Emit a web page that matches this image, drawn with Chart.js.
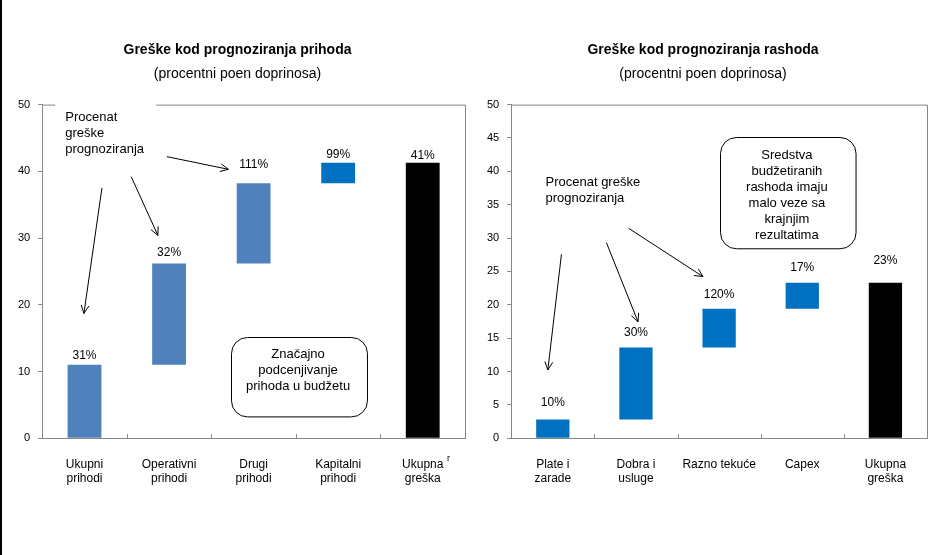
<!DOCTYPE html>
<html>
<head>
<meta charset="utf-8">
<script src="https://cdn.jsdelivr.net/npm/chart.js@4.4.0/dist/chart.umd.min.js"></script>
<style>
  body { margin: 0; background: #fff; }
  #page { position: relative; width: 945px; height: 555px; border-left: 2px solid #000; box-sizing: border-box; }
  #leftWrap { position: absolute; left: -2px; top: 0; }
  #rightWrap { position: absolute; left: 468px; top: 0; }
</style>
</head>
<body>
<div id="page">
  <div id="leftWrap"><canvas id="leftChart" width="470" height="555"></canvas></div>
  <div id="rightWrap"><canvas id="rightChart" width="475" height="555"></canvas></div>
</div>
<script>
// prihodi
var leftCats = [['Ukupni', 'prihodi'], ['Operativni', 'prihodi'], ['Drugi', 'prihodi'], ['Kapitalni', 'prihodi'], ['Ukupna', 'greška']];
var leftLow = [0, 11, 26.2, 38.2, 0];
var leftHigh = [11, 26.2, 38.2, 41.3, 41.3];
var leftPct = ['31%', '32%', '111%', '99%', '41%'];
var leftColors = ['#4F81BD', '#4F81BD', '#4F81BD', '#0070C0', '#000000'];

// rashodi
var rightCats = [['Plate i', 'zarade'], ['Dobra i', 'usluge'], 'Razno tekuće', 'Capex', ['Ukupna', 'greška']];
var rightLow = [0, 2.8, 13.6, 19.4, 0];
var rightHigh = [2.8, 13.6, 19.4, 23.3, 23.3];
var rightPct = ['10%', '30%', '120%', '17%', '23%'];
var rightColors = ['#0070C0', '#0070C0', '#0070C0', '#0070C0', '#000000'];

var FONT = "'Liberation Sans', Arial, sans-serif";
var AXIS = '#868686';

function pairs(lo, hi) {
    return lo.map(function (v, i) { return [v, hi[i]]; });
}

// frame (top/right), ticks between categories, value labels
var framePlugin = {
    id: 'frame',
    beforeDatasetsDraw: function (chart) {
        var a = chart.chartArea, ctx = chart.ctx, xs = chart.scales.x;
        ctx.save();
        ctx.strokeStyle = AXIS;
        ctx.lineWidth = 1;
        ctx.beginPath();
        ctx.moveTo(a.left, a.top + 0.5);
        ctx.lineTo(a.right + 0.5, a.top + 0.5);
        ctx.lineTo(a.right + 0.5, a.bottom);
        for (var i = 1; i < chart.data.labels.length; i++) {
            var x = Math.round((xs.getPixelForValue(i - 1) + xs.getPixelForValue(i)) / 2) + 0.5;
            ctx.moveTo(x, a.bottom - 4);
            ctx.lineTo(x, a.bottom);
        }
        ctx.stroke();
        ctx.restore();
    },
    afterDatasetsDraw: function (chart, args, opts) {
        var ctx = chart.ctx, ys = chart.scales.y;
        var meta = chart.getDatasetMeta(0);
        ctx.save();
        ctx.font = '12px ' + FONT;
        ctx.fillStyle = '#000';
        ctx.textAlign = 'center';
        ctx.textBaseline = 'middle';
        meta.data.forEach(function (bar, i) {
            var top = ys.getPixelForValue(chart.data.datasets[0].data[i][1]);
            ctx.fillText(opts.labels[i], bar.x, top - opts.lift[i]);
        });
        ctx.restore();
    }
};

// notes: text, arrows and boxes placed in data coordinates (category index, value)
var notesPlugin = {
    id: 'notes',
    afterDraw: function (chart, args, opts) {
        var ctx = chart.ctx, xs = chart.scales.x, ys = chart.scales.y;
        function px(p) { return [xs.getPixelForValue(p[0]), ys.getPixelForValue(p[1])]; }
        ctx.save();
        ctx.font = '13px ' + FONT;
        ctx.fillStyle = '#000';
        ctx.strokeStyle = '#000';
        ctx.lineWidth = 1;
        (opts.texts || []).forEach(function (t) {
            var p = px(t.at);
            if (t.clear) {
                var w = 0;
                t.lines.forEach(function (l) { w = Math.max(w, ctx.measureText(l).width); });
                ctx.fillStyle = '#fff';
                ctx.fillRect(p[0] - 10, p[1] - 20, w + 22, t.lines.length * 16 + 14);
                ctx.fillStyle = '#000';
            }
            ctx.textAlign = t.align;
            ctx.textBaseline = 'middle';
            t.lines.forEach(function (l, i) { ctx.fillText(l, p[0], p[1] + i * 16); });
        });
        (opts.boxes || []).forEach(function (b) {
            var p1 = px(b.from), p2 = px(b.to);
            ctx.beginPath();
            ctx.roundRect(Math.round(p1[0]) + 0.5, Math.round(p1[1]) + 0.5, p2[0] - p1[0], p2[1] - p1[1], 16);
            ctx.fillStyle = '#fff';
            ctx.fill();
            ctx.stroke();
        });
        (opts.arrows || []).forEach(function (ar) {
            var s = px(ar[0]), e = px(ar[1]);
            var ang = Math.atan2(e[1] - s[1], e[0] - s[0]);
            ctx.beginPath();
            ctx.moveTo(s[0], s[1]);
            ctx.lineTo(e[0], e[1]);
            ctx.moveTo(e[0] - 9 * Math.cos(ang - 0.45), e[1] - 9 * Math.sin(ang - 0.45));
            ctx.lineTo(e[0], e[1]);
            ctx.lineTo(e[0] - 9 * Math.cos(ang + 0.45), e[1] - 9 * Math.sin(ang + 0.45));
            ctx.stroke();
        });
        (opts.boxTexts || []).forEach(function (t) {
            var p = px(t.at);
            ctx.fillStyle = '#000';
            ctx.textAlign = 'center';
            ctx.textBaseline = 'middle';
            t.lines.forEach(function (l, i) { ctx.fillText(l, p[0], p[1] + i * 16); });
        });
        (opts.stray || []).forEach(function (t) {
            ctx.font = '9px ' + FONT;
            ctx.textAlign = 'left';
            ctx.fillText(t.text, t.x, t.y);
        });
        ctx.restore();
    }
};

function makeChart(id, cats, lo, hi, colors, title, yStep, pad, valueOpts, notes) {
    var ctx = document.getElementById(id).getContext('2d');
    return new Chart(ctx, {
        type: 'bar',
        data: {
            labels: cats,
            datasets: [{
                data: pairs(lo, hi),
                backgroundColor: colors,
                borderWidth: 0,
                barPercentage: 0.4,
                categoryPercentage: 1
            }]
        },
        options: {
            responsive: false,
            animation: false,
            layout: { padding: pad },
            plugins: {
                legend: { display: false },
                tooltip: { enabled: false },
                title: {
                    display: true,
                    text: title,
                    color: '#000',
                    font: { family: FONT, size: 14, weight: 'bold' },
                    padding: { top: 42, bottom: 6 }
                },
                subtitle: {
                    display: true,
                    text: '(procentni poen doprinosa)',
                    color: '#000',
                    font: { family: FONT, size: 14 },
                    padding: { top: 1, bottom: 22 }
                },
                frame: valueOpts,
                notes: notes
            },
            scales: {
                x: {
                    grid: { display: false, drawTicks: false },
                    border: { color: AXIS },
                    ticks: { color: '#000', font: { family: FONT, size: 12 }, padding: 19, maxRotation: 0, autoSkip: false }
                },
                y: {
                    min: 0,
                    max: 50,
                    grid: { drawOnChartArea: false, tickLength: 4, color: AXIS },
                    border: { color: AXIS },
                    ticks: { stepSize: yStep, color: '#000', font: { family: FONT, size: 11 }, padding: 8 }
                }
            }
        },
        plugins: [framePlugin, notesPlugin]
    });
}

makeChart('leftChart', leftCats, leftLow, leftHigh, leftColors,
    'Greške kod prognoziranja prihoda', 10,
    { left: 10, right: 5, bottom: 50 },
    { labels: leftPct, lift: [9, 11, 19, 8, 7] },
    {
        texts: [{ at: [-0.228, 48.1], lines: ['Procenat', 'greške', 'prognoziranja'], align: 'left', clear: true }],
        arrows: [
            [[0.206, 37.5], [-0.007, 18.7]],
            [[0.552, 39.2], [0.868, 30.4]],
            [[0.974, 42.2], [1.702, 40.3]]
        ],
        boxes: [{ from: [1.73, 15.2], to: [3.338, 3.3] }],
        boxTexts: [{ at: [2.526, 12.6], lines: ['Značajno', 'podcenjivanje', 'prihoda u budžetu'] }],
        stray: [{ text: 'r', x: 447, y: 459 }]
    });

makeChart('rightChart', rightCats, rightLow, rightHigh, rightColors,
    'Greške kod prognoziranja rashoda', 5,
    { left: 9, right: 18, bottom: 50 },
    { labels: rightPct, lift: [17, 15, 14, 15, 22] },
    {
        texts: [{ at: [-0.088, 38.4], lines: ['Procenat greške', 'prognoziranja'], align: 'left' }],
        arrows: [
            [[0.104, 27.57], [-0.06, 10.23]],
            [[0.645, 29.3], [1.025, 17.45]],
            [[0.912, 31.46], [1.806, 24.22]]
        ],
        boxes: [{ from: [2.005, 45.15], to: [3.635, 28.47] }],
        boxTexts: [{ at: [2.815, 42.4], lines: ['Sredstva', 'budžetiranih', 'rashoda imaju', 'malo veze sa', 'krajnjim', 'rezultatima'] }]
    });
</script>
</body>
</html>
